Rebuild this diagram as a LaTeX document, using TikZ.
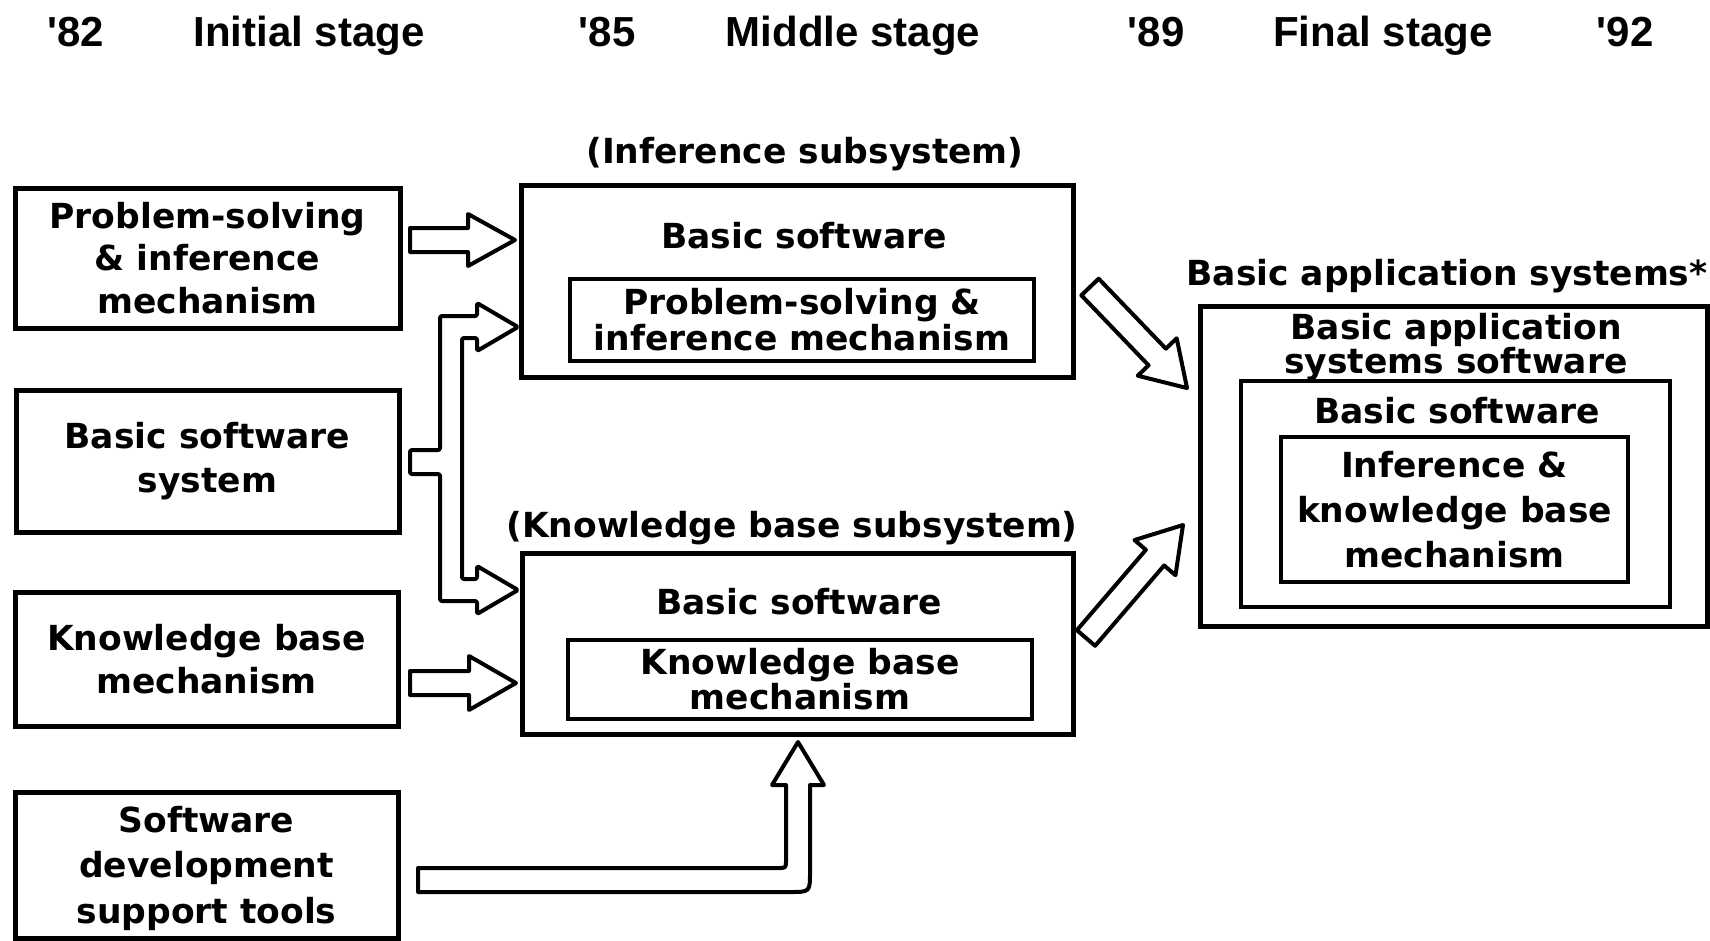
\documentclass[tikz,border=0pt]{standalone}
\usepackage{fontspec}
\usetikzlibrary{calc}
\newfontfamily\dvs{DejaVu Sans}
\newfontfamily\lib{Liberation Sans}
\newcommand\blockarrow[5]{%
  \coordinate (bah) at ($(#2)!#5!(#1)$);
  \draw[barrow] ($(#1)!#3!90:(#2)$) -- ($(bah)!#3!-90:(#1)$) -- ($(bah)!#4!-90:(#1)$) -- (#2) -- ($(bah)!#4!90:(#1)$) -- ($(bah)!#3!90:(#1)$) -- ($(#1)!#3!-90:(#2)$) -- cycle;}
\begin{document}
\begin{tikzpicture}[x=1pt,y=-1pt,
  box/.style={draw, line width=5pt, inner sep=0pt, outer sep=0pt},
  ibox/.style={draw, line width=4pt, inner sep=0pt, outer sep=0pt},
  txt/.style={font=\dvs\bfseries\fontsize{34.5}{43}\selectfont, align=center, inner sep=0pt},
  lead/.style={font=\dvs\bfseries\fontsize{34.5}{#1}\selectfont},
  head/.style={font=\lib\bfseries\fontsize{42}{50}\selectfont, inner sep=0pt, anchor=base},
  barrow/.style={draw, line width=4pt, line join=round, fill=white}]
\useasboundingbox (0,0) rectangle (1710,940);

% headers
\node[head] (h82) at (76,46) {'82};
\node[head] (hini) at (309,46) {Initial stage};
\node[head] (h85) at (607,46) {'85};
\node[head] (hmid) at (853,46) {Middle stage};
\node[head] (h89) at (1156,46) {'89};
\node[head] (hfin) at (1383,46) {Final stage};
\node[head] (h92) at (1625,46) {'92};

% left column
\node[box, txt, lead=42.5, minimum width=385pt, minimum height=140pt] (b1) at (207.5,258) {Problem-solving\\\& inference\\mechanism};
\node[box, txt, lead=43.5, minimum width=383pt, minimum height=142pt] (b2) at (207.5,461) {Basic software\\system};
\node[box, txt, lead=42.5, minimum width=383pt, minimum height=134pt] (b3) at (206.5,659) {Knowledge base\\mechanism};
\node[box, minimum width=383pt, minimum height=146pt] (b4) at (206.5,865) {};
\node[txt, lead=45.5] (b4t) at (206.5,868) {Software\\development\\support tools};

% middle column
\node[txt] (l1) at (805,154) {(Inference subsystem)};
\node[box, minimum width=552pt, minimum height=192pt] (m1) at (797,281) {};
\node[txt] (m1t) at (804,236) {Basic software};
\node[ibox, txt, lead=36, minimum width=464pt, minimum height=82pt] (m1i) at (802,320) {Problem-solving \&\\inference mechanism};

\node[txt] (l2) at (792,528) {(Knowledge base subsystem)};
\node[box, minimum width=551pt, minimum height=181pt] (m2) at (797.5,643.5) {};
\node[txt] (m2t) at (799,602) {Basic software};
\node[ibox, txt, lead=35, minimum width=464pt, minimum height=79pt] (m2i) at (800,679.5) {Knowledge base\\mechanism};

% right column
\node[txt] (l3) at (1447,276) {Basic application systems*};
\node[box, minimum width=507pt, minimum height=320pt] (r1) at (1453.5,466) {};
\node[txt, lead=34] (r1t) at (1456,347) {Basic application\\systems software};
\node[box, line width=4.5pt, minimum width=429pt, minimum height=226pt] (r2) at (1455.5,494) {};
\node[txt] (r2t) at (1457,411) {Basic software};
\node[ibox, txt, lead=45, minimum width=347pt, minimum height=145pt] (r3) at (1454.5,509.5) {Inference \&\\knowledge base\\mechanism};

% straight block arrows
\coordinate (aA1) at ($(b1.east)+(10,-18)$);
\coordinate (aA2) at ($(m1.west)+(-6,-41)$);
\blockarrow{aA1}{aA2}{12pt}{26pt}{47pt}
\coordinate (aB1) at ($(b3.east)+(12,24)$);
\coordinate (aB2) at ($(m2.west)+(-6,39.5)$);
\blockarrow{aB1}{aB2}{12pt}{27pt}{47pt}
\coordinate (aC1) at ($(m1.east)+(17,6)$);
\coordinate (aC2) at ($(r1.west)+(-13,-78)$);
\blockarrow{aC1}{aC2}{12pt}{27pt}{43pt}
\coordinate (aD1) at ($(m2.east)+(13,-5.5)$);
\coordinate (aD2) at ($(r1.west)+(-17,59)$);
\blockarrow{aD1}{aD2}{12pt}{27pt}{43pt}

% bracket arrow from basic software system to both subsystems
\coordinate (brS) at ($(b2.east)+(11,1)$);
\coordinate (brT1) at ($(m1.west)+(-3,46)$);
\coordinate (brT2) at ($(m2.west)+(-4,-53.5)$);
\draw[barrow, rounded corners=2pt] ($(brS)+(0,-12)$) -- ($(brS)+(30,-12)$) -- ($(brT1)+(-78,-11)$) -- ($(brT1)+(-41,-11)$) -- ($(brT1)+(-41,-24)$) -- (brT1) -- ($(brT1)+(-41,24)$) -- ($(brT1)+(-41,11)$) -- ($(brT1)+(-56,11)$) -- ($(brT2)+(-56,-11)$) -- ($(brT2)+(-41,-11)$) -- ($(brT2)+(-41,-24)$) -- (brT2) -- ($(brT2)+(-41,24)$) -- ($(brT2)+(-41,11)$) -- ($(brT2)+(-78,11)$) -- ($(brS)+(30,12)$) -- ($(brS)+(0,12)$) -- cycle;

% L-shaped arrow from support tools to knowledge base subsystem
\coordinate (Ltail) at ($(b4.east)+(20,15)$);
\coordinate (Ltip) at ($(m2.south)+(0.5,8)$);
\coordinate (La) at ($(Ltail)+(0,-12)$);
\coordinate (Lb) at ($(Ltail)+(0,12)$);
\coordinate (Lc) at ($(Ltip)+(-12,43)$);
\coordinate (Ld) at ($(Ltip)+(12,43)$);
\coordinate (Lk) at (Lc |- La);
\coordinate (Lm) at (Ld |- Lb);
\draw[barrow] (La) -- ($(Lk)+(-8,0)$) .. controls (Lk) .. ($(Lk)+(0,-8)$) -- (Lc) -- ($(Lc)+(-14,0)$) -- (Ltip) -- ($(Ld)+(14,0)$) -- (Ld) -- ($(Lm)+(0,-20)$) .. controls (Lm) .. ($(Lm)+(-20,0)$) -- (Lb) -- cycle;
\end{tikzpicture}
\end{document}
